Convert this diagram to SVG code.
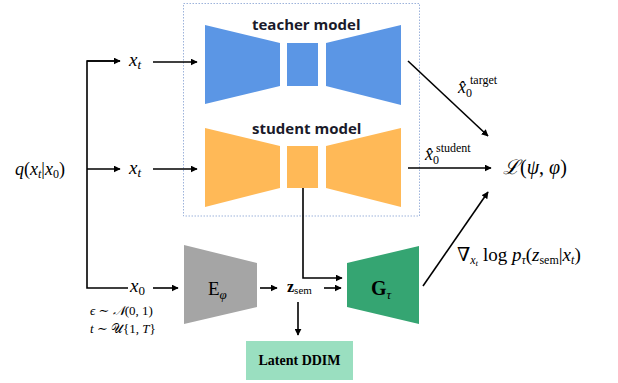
<svg xmlns="http://www.w3.org/2000/svg" width="618" height="383" viewBox="0 0 618 383">
<defs>
<marker id="ah" viewBox="0 0 10 10" refX="9" refY="5" markerWidth="7" markerHeight="7" markerUnits="userSpaceOnUse" orient="auto">
<path d="M0,0 L10,5 L0,10 Z" fill="#000"/>
</marker>
<style>
.ln{stroke:#000;stroke-width:1.6;fill:none}
.ar{stroke:#000;stroke-width:1.6;fill:none;marker-end:url(#ah)}
.m{font-family:"Liberation Serif","DejaVu Serif",serif;fill:#000}
.i{font-style:italic}
.lbl{font-family:"Open Sans","Liberation Sans",sans-serif;font-weight:bold;font-size:15px;fill:#1a1a2a}
.blue{fill:#5B96E5}
.orange{fill:#FFB957}
</style>
</defs>
<rect id="box" x="183.5" y="3.5" width="236" height="212.5" fill="none" stroke="#9DB3DB" stroke-width="1" stroke-dasharray="1.5,1.5"/>
<g id="teacher">
<polygon class="blue" points="205,25 280,43 280,86 205,104"/>
<rect class="blue" x="287" y="43" width="31" height="43"/>
<polygon class="blue" points="326,43 401,25 401,105 326,86"/>
<text class="lbl" x="252" y="30">teacher model</text>
</g>
<g id="student">
<polygon class="orange" points="205,128 280,146 280,188 205,207"/>
<rect class="orange" x="287" y="146" width="31" height="42"/>
<polygon class="orange" points="326,146 401,128 401,207 326,188"/>
<text class="lbl" x="252" y="134">student model</text>
</g>
<g id="encoder">
<polygon fill="#A5A5A5" points="184,245 257,263 257,307 184,324"/>
<text class="m" x="208" y="295" font-size="19">E<tspan class="i" font-size="13" dy="4">φ</tspan></text>
</g>
<g id="generator">
<polygon fill="#35A572" points="347,263 419,246 419,324 347,307"/>
<text class="m" x="371" y="295" font-size="20" font-weight="bold">G<tspan class="i" font-size="13" dy="4" font-weight="normal">τ</tspan></text>
</g>
<g id="ddim">
<rect x="246" y="341" width="107" height="39" fill="#9ADFC0"/>
<text class="m" x="299.5" y="365" font-size="14" font-weight="bold" text-anchor="middle">Latent DDIM</text>
</g>
<g id="connectors">
<polyline class="ln" points="120,61 87,61 87,288 128,288"/>
<line class="ar" x1="87" y1="61" x2="120" y2="61"/>
<line class="ar" x1="87" y1="169" x2="120" y2="169"/>
<line class="ar" x1="153" y1="62" x2="197" y2="62"/>
<line class="ar" x1="153" y1="169" x2="197" y2="169"/>
<line class="ar" x1="153" y1="288" x2="178" y2="288"/>
<line class="ar" x1="260" y1="288" x2="277" y2="288"/>
<line class="ar" x1="324" y1="288" x2="341" y2="288"/>
<line class="ar" x1="298" y1="302" x2="298" y2="335"/>
<polyline class="ar" points="303,188 303,278 342,278"/>
<line class="ar" x1="408" y1="61" x2="488" y2="136"/>
<line class="ar" x1="408" y1="168" x2="491" y2="168"/>
<line class="ar" x1="423" y1="286" x2="488" y2="192"/>
</g>
<g id="labels">
<text class="m" x="15" y="175" font-size="18"><tspan class="i">q</tspan>(<tspan class="i">x</tspan><tspan class="i" font-size="12" dy="3">t</tspan><tspan dy="-3">|</tspan><tspan class="i">x</tspan><tspan font-size="12" dy="3">0</tspan><tspan dy="-3">)</tspan></text>
<text class="m i" x="129" y="66" font-size="19">x<tspan font-size="13" dy="3">t</tspan></text>
<text class="m i" x="129" y="174" font-size="19">x<tspan font-size="13" dy="3">t</tspan></text>
<text class="m i" x="130" y="292" font-size="19">x<tspan font-size="13" dy="3" font-style="normal">0</tspan></text>
<text class="m" x="90" y="315" font-size="13"><tspan class="i">ϵ</tspan> ∼ <tspan class="i">𝒩</tspan>(0, 1)</text>
<text class="m" x="90" y="333" font-size="13"><tspan class="i">t</tspan> ∼ 𝒰{1, <tspan class="i">T</tspan>}</text>
<text class="m" x="287" y="292" font-size="16" font-weight="bold">z<tspan font-size="11" dy="2" font-weight="normal">sem</tspan></text>
<text class="m" x="458" y="93" font-size="18"><tspan class="i">x̂</tspan><tspan font-size="12" dy="4">0</tspan></text>
<text class="m" x="470" y="84" font-size="12">target</text>
<text class="m" x="425" y="160" font-size="18"><tspan class="i">x̂</tspan><tspan font-size="12" dy="4">0</tspan></text>
<text class="m" x="436" y="152" font-size="12">student</text>
<text class="m" x="503" y="174" font-size="20"><tspan class="i">ℒ</tspan>(<tspan class="i">ψ</tspan>, <tspan class="i">φ</tspan>)</text>
<text class="m" x="457" y="261" font-size="19">∇<tspan class="i" font-size="12" dy="3">x</tspan><tspan class="i" font-size="9" dy="2">t</tspan><tspan dy="-5"> log </tspan><tspan class="i">p</tspan><tspan class="i" font-size="12" dy="3">τ</tspan><tspan dy="-3">(</tspan><tspan class="i">z</tspan><tspan font-size="12" dy="3">sem</tspan><tspan dy="-3">|</tspan><tspan class="i">x</tspan><tspan class="i" font-size="12" dy="3">t</tspan><tspan dy="-3">)</tspan></text>
</g>
</svg>
